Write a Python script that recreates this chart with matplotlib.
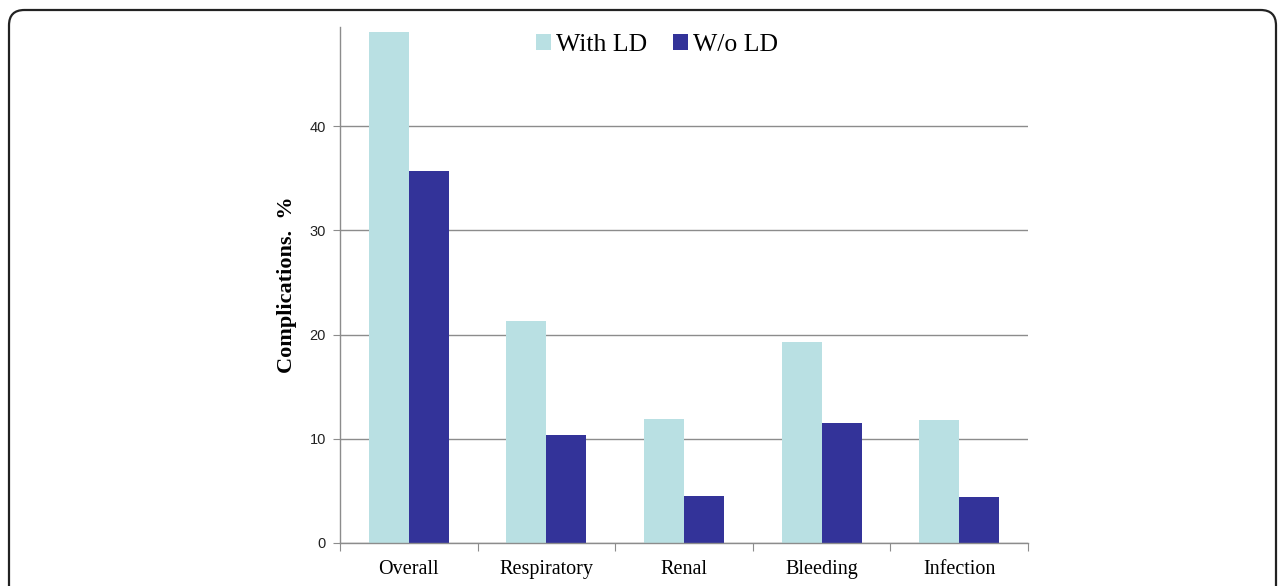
import numpy as np
import matplotlib
matplotlib.use("Agg")
import matplotlib.pyplot as plt
from matplotlib.patches import FancyBboxPatch

categories = ["Overall", "Respiratory", "Renal", "Bleeding", "Infection"]
with_ld = [49.0, 21.3, 11.9, 19.3, 11.8]
without_ld = [35.7, 10.4, 4.5, 11.5, 4.4]
series_names = ["With LD", "W/o LD"]
yticks = [0, 10, 20, 30, 40]

light = "#b9e0e3"
dark = "#333399"
axis_grey = "#8c8c8c"

fig = plt.figure(figsize=(12.84, 5.86), dpi=100)
W, H = 1284, 586
ax = fig.add_axes([340 / W, 1 - 543 / H, (1028 - 340) / W, (543 - 27) / H])

x = np.arange(len(categories))
bw = 0.29
ax.bar(x - bw / 2, with_ld, bw, color=light, label=series_names[0], zorder=2)
ax.bar(x + bw / 2, without_ld, bw, color=dark, label=series_names[1], zorder=2)

ax.set_xlim(-0.5, len(categories) - 0.5)
ax.set_ylim(0, 49.5)
ax.set_yticks(yticks)
ax.set_yticklabels([str(t) for t in yticks], fontsize=10.5, family="Liberation Sans", color="#222222")
ax.yaxis.grid(True, color=axis_grey, linewidth=1.0, zorder=0)
ax.set_axisbelow(True)

ax.set_xticks(np.arange(len(categories) + 1) - 0.5, minor=False)
ax.set_xticklabels([])
ax.set_xticks(x, minor=True)
ax.set_xticklabels(categories, minor=True, fontsize=14.5, family="Liberation Serif")
ax.tick_params(axis="x", which="major", direction="out", length=6, color=axis_grey)
ax.tick_params(axis="x", which="minor", length=0, pad=12.5)
ax.tick_params(axis="y", direction="out", length=5, color=axis_grey, pad=5)

for s in ["top", "right"]:
    ax.spines[s].set_visible(False)
for s in ["left", "bottom"]:
    ax.spines[s].set_color(axis_grey)
    ax.spines[s].set_linewidth(1.0)

ax.set_ylabel("Complications.  %", fontsize=16, fontweight="bold", family="Liberation Serif", labelpad=9)

fig.legend(loc="center", bbox_to_anchor=(657 / W, 1 - 45 / H), ncol=2, frameon=False,
           prop={"family": "Liberation Serif", "size": 18.5}, handlelength=0.6, handleheight=0.6,
           handletextpad=0.2, columnspacing=1.0)

border = FancyBboxPatch((9 / W, -0.05), (1276 - 9) / W, 1 - 10 / H + 0.05,
                        boxstyle="round,pad=0,rounding_size=0.012", transform=fig.transFigure,
                        fill=False, edgecolor="#222222", linewidth=1.6, mutation_aspect=W / H)
fig.patches.append(border)

fig.savefig("out.png", dpi=100)
